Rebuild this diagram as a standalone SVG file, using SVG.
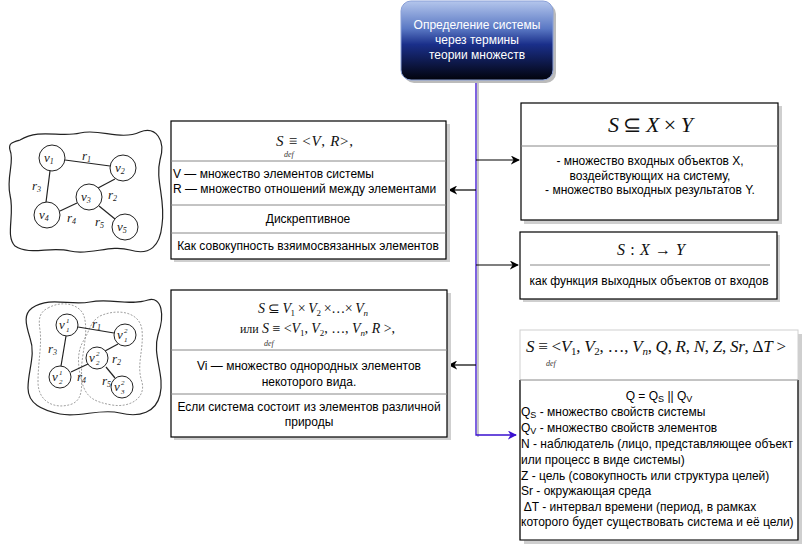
<svg xmlns="http://www.w3.org/2000/svg" width="803" height="544" viewBox="0 0 803 544">
<style>
.t{font-family:"Liberation Sans",Arial,sans-serif;font-size:12px;fill:#000}
.c{text-anchor:middle}
.m{font-family:"Liberation Serif","Times New Roman",serif;fill:#111}
.i{font-style:italic}
.d{font-family:"Liberation Serif",serif;font-style:italic;font-size:8px;fill:#333}
.box{fill:#fff;stroke:#000;stroke-width:1.2}
.sh{fill:#cfcfcf}
.div{stroke:#888;stroke-width:1}
.g{fill:none;stroke:#222;stroke-width:1.2}
.gc{fill:#fff;stroke:#222;stroke-width:1}
.gl{font-family:"Liberation Serif",serif;font-style:italic;font-size:13px;fill:#222}
.gs{font-family:"Liberation Serif",serif;font-style:italic;font-size:7px;fill:#222}
.dot{fill:none;stroke:#888;stroke-width:0.8;stroke-dasharray:2 1.5}
.ln{stroke:#000;stroke-width:1.2;fill:none}
</style>
<defs>
<linearGradient id="gr" x1="0" y1="0" x2="0" y2="1">
<stop offset="0" stop-color="#b4c6ec"/>
<stop offset="0.35" stop-color="#5a78c4"/>
<stop offset="0.55" stop-color="#1a2f8a"/>
<stop offset="1" stop-color="#02030c"/>
</linearGradient>
<marker id="ab" viewBox="0 0 10 10" refX="9" refY="5" markerWidth="9" markerHeight="9" orient="auto" markerUnits="userSpaceOnUse"><path d="M0,0 L10,5 L0,10 L3,5 Z" fill="#000"/></marker>
<marker id="au" viewBox="0 0 10 10" refX="9" refY="5" markerWidth="9" markerHeight="9" orient="auto" markerUnits="userSpaceOnUse"><path d="M0,0 L10,5 L0,10 L3,5 Z" fill="#3a10d0"/></marker>
</defs>

<g id="connectors">
<line x1="478" y1="82" x2="478" y2="437" stroke="#c8c8c8" stroke-width="2"/>
<polyline points="476,80 476,435 516,435" fill="none" stroke="#3a10d0" stroke-width="1.3" marker-end="url(#au)"/>
<line class="ln" x1="476" y1="160" x2="519" y2="160" marker-end="url(#ab)"/>
<line class="ln" x1="476" y1="190" x2="449" y2="190" marker-end="url(#ab)"/>
<line class="ln" x1="476" y1="265" x2="518" y2="265" marker-end="url(#ab)"/>
<line class="ln" x1="476" y1="365" x2="449" y2="365" marker-end="url(#ab)"/>
</g>

<g id="root">
<rect x="404" y="4" width="152" height="79" rx="10" fill="#bbb"/>
<rect x="401" y="1" width="152" height="79" rx="10" fill="url(#gr)" stroke="#8aa0d8" stroke-width="1"/>
<text class="t c" x="477" y="29" style="fill:#fff">Определение системы</text>
<text class="t c" x="477" y="44" style="fill:#fff">через термины</text>
<text class="t c" x="477" y="59" style="fill:#fff">теории множеств</text>
</g>

<g id="graph1">
<path class="g" d="M20,140 C40,128 60,138 80,133 C100,128 120,141 140,132 C156,126 166,140 160,160 C155,180 166,200 162,225 C160,246 150,256 130,250 C110,244 90,256 70,251 C50,246 30,256 15,246 C5,236 15,215 10,195 C6,176 15,162 10,150 C8,143 13,142 20,140 Z"/>
<line class="g" x1="65" y1="160" x2="110" y2="166"/>
<line class="g" x1="50" y1="171" x2="46" y2="202"/>
<line class="g" x1="115" y1="179" x2="98" y2="188"/>
<line class="g" x1="60" y1="211" x2="77" y2="203"/>
<line class="g" x1="99" y1="206" x2="115" y2="219"/>
<circle class="gc" cx="52" cy="158" r="13"/>
<circle class="gc" cx="123" cy="168" r="13"/>
<circle class="gc" cx="89" cy="197" r="13"/>
<circle class="gc" cx="47" cy="215" r="13"/>
<circle class="gc" cx="125" cy="227" r="13"/>
<text class="gl" x="44" y="162">v<tspan font-size="8" dy="2">1</tspan></text>
<text class="gl" x="115" y="172">v<tspan font-size="8" dy="2">2</tspan></text>
<text class="gl" x="81" y="201">v<tspan font-size="8" dy="2">3</tspan></text>
<text class="gl" x="39" y="219">v<tspan font-size="8" dy="2">4</tspan></text>
<text class="gl" x="117" y="231">v<tspan font-size="8" dy="2">5</tspan></text>
<text class="gl" x="82" y="160">r<tspan font-size="8" dy="2">1</tspan></text>
<text class="gl" x="108" y="199">r<tspan font-size="8" dy="2">2</tspan></text>
<text class="gl" x="32" y="190">r<tspan font-size="8" dy="2">3</tspan></text>
<text class="gl" x="67" y="222">r<tspan font-size="8" dy="2">4</tspan></text>
<text class="gl" x="95" y="226">r<tspan font-size="8" dy="2">5</tspan></text>
</g>

<g id="graph2">
<path class="g" d="M32,308 C50,296 70,306 90,302 C110,298 130,306 148,300 C162,296 165,315 158,335 C152,355 165,375 160,395 C156,412 140,418 120,413 C100,408 80,418 60,414 C42,410 28,404 28,388 C28,370 36,355 30,338 C25,322 24,314 32,308 Z"/>
<path class="dot" d="M48,308 C62,300 80,304 84,316 C88,330 84,345 82,362 C80,380 86,398 72,404 C55,410 38,402 38,382 C38,362 42,345 40,330 C38,318 40,312 48,308 Z"/>
<path class="dot" d="M100,316 C118,308 140,312 142,330 C144,350 136,365 142,382 C146,398 130,408 112,405 C95,402 86,398 82,382 C78,368 76,352 84,340 C90,330 90,322 100,316 Z"/>
<line class="g" x1="78" y1="327" x2="114" y2="333"/>
<line class="g" x1="66" y1="336" x2="61" y2="366"/>
<line class="g" x1="118" y1="344" x2="105" y2="351"/>
<line class="g" x1="71" y1="372" x2="88" y2="364"/>
<line class="g" x1="106" y1="367" x2="115" y2="378"/>
<circle class="gc" cx="67" cy="325" r="11"/>
<circle class="gc" cx="125" cy="335" r="11"/>
<circle class="gc" cx="97" cy="358" r="11"/>
<circle class="gc" cx="60" cy="377" r="11"/>
<circle class="gc" cx="122" cy="387" r="11"/>
<text class="gl" x="59" y="329">v</text><text class="gs" x="66" y="323">1</text><text class="gs" x="66" y="332">1</text>
<text class="gl" x="117" y="339">v</text><text class="gs" x="124" y="333">2</text><text class="gs" x="124" y="342">1</text>
<text class="gl" x="89" y="362">v</text><text class="gs" x="96" y="356">2</text><text class="gs" x="96" y="365">2</text>
<text class="gl" x="52" y="381">v</text><text class="gs" x="59" y="375">1</text><text class="gs" x="59" y="384">2</text>
<text class="gl" x="114" y="391">v</text><text class="gs" x="121" y="385">2</text><text class="gs" x="121" y="394">3</text>
<text class="gl" x="92" y="328">r<tspan font-size="8" dy="2">1</tspan></text>
<text class="gl" x="112" y="363">r<tspan font-size="8" dy="2">2</tspan></text>
<text class="gl" x="48" y="353">r<tspan font-size="8" dy="2">3</tspan></text>
<text class="gl" x="77" y="381">r<tspan font-size="8" dy="2">4</tspan></text>
<text class="gl" x="102" y="385">r<tspan font-size="8" dy="2">5</tspan></text>
</g>

<g id="box1">
<rect class="sh" x="174" y="124" width="276" height="138"/>
<rect class="box" x="171" y="121" width="275" height="138"/>
<text class="m" x="276" y="146" font-size="15" textLength="77" lengthAdjust="spacing"><tspan class="i">S</tspan> ≡ &lt;<tspan class="i">V</tspan>, <tspan class="i">R</tspan>&gt;,</text>
<text class="d" x="284" y="157">def</text>
<line class="div" x1="171" y1="161" x2="446" y2="161"/>
<text class="t" x="173" y="178">V — множество элементов системы</text>
<text class="t" x="173" y="193">R — множество отношений между элементами</text>
<line class="div" x1="171" y1="205" x2="446" y2="205"/>
<text class="t c" x="308" y="223">Дискрептивное</text>
<line class="div" x1="171" y1="233" x2="446" y2="233"/>
<text class="t c" x="308" y="250">Как совокупность взяимосвязанных элементов</text>
</g>

<g id="box2">
<rect class="sh" x="524" y="106" width="258" height="118"/>
<rect class="box" x="521" y="103" width="257" height="117"/>
<text class="m" x="608" y="132" font-size="22" textLength="85" lengthAdjust="spacing"><tspan class="i">S</tspan> ⊆ <tspan class="i">X</tspan> × <tspan class="i">Y</tspan></text>
<line class="div" x1="521" y1="146" x2="778" y2="146"/>
<text class="t c" x="650" y="165">- множество входных объектов X,</text>
<text class="t c" x="650" y="180">воздействующих на систему,</text>
<text class="t c" x="650" y="194">- множество выходных результатов Y.</text>
</g>

<g id="box3">
<rect class="sh" x="523" y="235" width="257" height="67"/>
<rect class="box" x="520" y="232" width="257" height="67"/>
<text class="m" x="617" y="255" font-size="16" textLength="68" lengthAdjust="spacing"><tspan class="i">S</tspan>:<tspan class="i">X</tspan>→<tspan class="i">Y</tspan></text>
<line class="div" x1="530" y1="265" x2="770" y2="265"/>
<text class="t c" x="649" y="285">как функция выходных объектов от входов</text>
</g>

<g id="box4">
<rect class="sh" x="174" y="293" width="277" height="147"/>
<rect class="box" x="171" y="290" width="276" height="147"/>
<text class="m" x="258" y="313" font-size="14" textLength="110" lengthAdjust="spacing"><tspan class="i">S</tspan> ⊆ <tspan class="i">V</tspan><tspan font-size="9" dy="3">1</tspan><tspan dy="-3"> × </tspan><tspan class="i">V</tspan><tspan font-size="9" dy="3">2</tspan><tspan dy="-3"> ×…× </tspan><tspan class="i">V</tspan><tspan class="i" font-size="9" dy="3">n</tspan></text>
<text class="m" x="240" y="333" font-size="14" textLength="155" lengthAdjust="spacing"><tspan font-size="12">или</tspan> <tspan class="i">S</tspan> ≡ &lt;<tspan class="i">V</tspan><tspan font-size="9" dy="3">1</tspan><tspan dy="-3">, </tspan><tspan class="i">V</tspan><tspan font-size="9" dy="3">2</tspan><tspan dy="-3">, …, </tspan><tspan class="i">V</tspan><tspan class="i" font-size="9" dy="3">n</tspan><tspan dy="-3">, </tspan><tspan class="i">R</tspan> &gt;,</text>
<text class="d" x="264" y="346">def</text>
<line class="div" x1="171" y1="350" x2="447" y2="350"/>
<text class="t c" x="309" y="370">Vi — множество однородных элементов</text>
<text class="t c" x="309" y="386">некоторого вида.</text>
<line class="div" x1="171" y1="394" x2="447" y2="394"/>
<text class="t c" x="309" y="411">Если система состоит из элементов различной</text>
<text class="t c" x="309" y="426">природы</text>
</g>

<g id="box5">
<rect class="sh" x="524" y="334" width="278" height="210"/>
<rect x="520" y="330" width="278" height="210" fill="#fff" stroke="#d0d0d0" stroke-width="1"/>
<path d="M520,380 V540 H798 V380" fill="none" stroke="#000" stroke-width="1.2"/>
<text class="m" x="526" y="352" font-size="17" textLength="260" lengthAdjust="spacing"><tspan class="i">S</tspan> ≡ &lt;<tspan class="i">V</tspan><tspan font-size="11" dy="3">1</tspan><tspan dy="-3">, </tspan><tspan class="i">V</tspan><tspan font-size="11" dy="3">2</tspan><tspan dy="-3">, …, </tspan><tspan class="i">V</tspan><tspan class="i" font-size="11" dy="3">n</tspan><tspan dy="-3">, </tspan><tspan class="i">Q</tspan>, <tspan class="i">R</tspan>, <tspan class="i">N</tspan>, <tspan class="i">Z</tspan>, <tspan class="i">Sr</tspan>, Δ<tspan class="i">T</tspan> &gt;</text>
<text class="d" x="546" y="366">def</text>
<line x1="520" y1="380" x2="798" y2="380" stroke="#888" stroke-width="1"/>
<text class="t c" x="659" y="400">Q = Q<tspan font-size="9" dy="2">S</tspan><tspan dy="-2"> || Q</tspan><tspan font-size="9" dy="2">V</tspan></text>
<text class="t" x="521" y="416">Q<tspan font-size="9" dy="2">S</tspan><tspan dy="-2"> - множество свойств системы</tspan></text>
<text class="t" x="521" y="432">Q<tspan font-size="9" dy="2">V</tspan><tspan dy="-2"> - множество свойств элементов</tspan></text>
<text class="t" x="521" y="448">N - наблюдатель (лицо, представляющее объект</text>
<text class="t" x="521" y="464">или процесс в виде системы)</text>
<text class="t" x="521" y="480">Z - цель (совокупность или структура целей)</text>
<text class="t" x="521" y="495">Sr - окружающая среда</text>
<text class="t" x="521" y="511" xml:space="preserve"> ΔT - интервал времени (период, в рамках</text>
<text class="t" x="521" y="526">которого будет существовать система и её цели)</text>
</g>
</svg>
